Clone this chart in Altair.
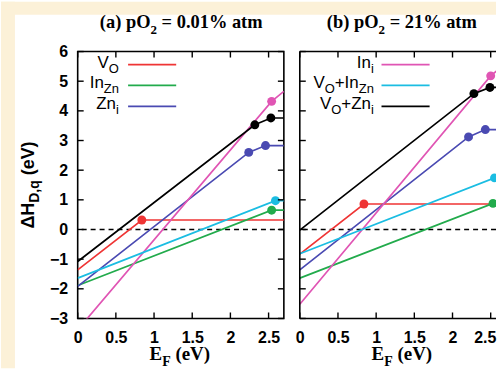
import altair as alt
import pandas as pd

# ---------------- data ----------------
SERIES = ["V_O", "In_Zn", "Zn_i", "In_i", "V_O+In_Zn", "V_O+Zn_i"]
COLORS = ["#ef3535", "#22ab4c", "#4a4ab2", "#e055b4", "#1bbde2", "#000000"]

X_MAX = 2.7
Y_MIN, Y_MAX = -3, 6
X_TICKS = [0, 0.5, 1, 1.5, 2, 2.5]
Y_TICKS = [-3, -2, -1, 0, 1, 2, 3, 4, 5, 6]

# Panel (a): pO2 = 0.01% atm  (breakpoints of each line)
A_VO_X = [0, 0.84, 2.7]
A_VO_Y = [-1.36, 0.32, 0.32]
A_INZN_X = [0, 2.54, 2.7]
A_INZN_Y = [-1.89, 0.65, 0.65]
A_ZNI_X = [0, 2.24, 2.46, 2.7]
A_ZNI_Y = [-1.92, 2.60, 2.83, 2.83]
A_INI_X = [0, 2.54, 2.7]
A_INI_Y = [-3.38, 4.32, 4.66]
A_VOINZN_X = [0, 2.59, 2.7]
A_VOINZN_Y = [-1.64, 0.97, 0.97]
A_VOZNI_X = [0, 2.32, 2.53, 2.7]
A_VOZNI_Y = [-1.08, 3.53, 3.76, 3.76]
A_DOT_S = ["V_O", "In_Zn", "Zn_i", "Zn_i", "In_i", "V_O+In_Zn", "V_O+Zn_i", "V_O+Zn_i"]
A_DOT_X = [0.84, 2.54, 2.24, 2.46, 2.54, 2.59, 2.32, 2.53]
A_DOT_Y = [0.32, 0.65, 2.60, 2.83, 4.32, 0.97, 3.53, 3.76]

# Panel (b): pO2 = 21% atm
B_VO_X = [0, 0.84, 2.7]
B_VO_Y = [-0.83, 0.86, 0.86]
B_INZN_X = [0, 2.53, 2.7]
B_INZN_Y = [-1.64, 0.88, 0.88]
B_ZNI_X = [0, 2.21, 2.43, 2.7]
B_ZNI_Y = [-1.36, 3.12, 3.37, 3.37]
B_INI_X = [0, 2.50, 2.7]
B_INI_Y = [-2.52, 5.18, 5.60]
B_VOINZN_X = [0, 2.55, 2.7]
B_VOINZN_Y = [-0.82, 1.74, 1.74]
B_VOZNI_X = [0, 2.28, 2.49, 2.7]
B_VOZNI_Y = [-0.02, 4.58, 4.79, 4.79]
B_DOT_S = ["V_O", "In_Zn", "Zn_i", "Zn_i", "In_i", "V_O+In_Zn", "V_O+Zn_i", "V_O+Zn_i"]
B_DOT_X = [0.84, 2.53, 2.21, 2.43, 2.50, 2.55, 2.28, 2.49]
B_DOT_Y = [0.86, 0.88, 3.12, 3.37, 5.18, 1.74, 4.58, 4.79]

# legends (series, label segments: (text, is_subscript))
A_LEG = ["V_O", "In_Zn", "Zn_i"]
B_LEG = ["In_i", "V_O+In_Zn", "V_O+Zn_i"]
LABEL_SEGS = {
    "V_O": [("V", 0), ("O", 1)],
    "In_Zn": [("In", 0), ("Zn", 1)],
    "Zn_i": [("Zn", 0), ("i", 1)],
    "In_i": [("In", 0), ("i", 1)],
    "V_O+In_Zn": [("V", 0), ("O", 1), ("+In", 0), ("Zn", 1)],
    "V_O+Zn_i": [("V", 0), ("O", 1), ("+Zn", 0), ("i", 1)],
}
LEG_ROWS_Y = [5.56, 4.86, 4.15]
A_LEG_END, A_LEG_X1, A_LEG_X2 = 0.54, 0.66, 1.29
B_LEG_END, B_LEG_X1, B_LEG_X2 = 0.97, 1.07, 1.70

A_TITLE = [("(a) pO", 0), ("2", 1), (" = 0.01% atm", 0)]
B_TITLE = [("(b) pO", 0), ("2", 1), (" = 21% atm", 0)]
X_TITLE = [("E", 0), ("F", 1), (" (eV)", 0)]
Y_TITLE = [("ΔH", 0), ("D,q", 1), (" (eV)", 0)]

# ---------------- styling helpers ----------------
W, H = 207, 268
PX_PER_EV = W / X_MAX
WB = 197                      # panel (b) is cut by the picture's right edge
CREAM = "#fcf1d8"
SANS = "Liberation Sans"
SERIF = "Liberation Serif"

W_SANS = {"V": 667, "O": 778, "I": 278, "n": 556, "Z": 611, "i": 222, "+": 584, " ": 278}
W_SANS_B = {"Δ": 722, "H": 722, "D": 722, ",": 278, "q": 611, " ": 278, "(": 333,
            "e": 556, "V": 667, ")": 333}
W_SERIF_B = {"(": 333, "a": 500, ")": 333, " ": 250, "p": 556, "O": 778, "2": 500,
             "=": 570, "0": 500, ".": 250, "1": 500, "%": 1000, "t": 333, "m": 833,
             "b": 556, "E": 667, "F": 611, "e": 444, "V": 722}


def tw(s, size, table):
    return sum(table.get(c, 556) for c in s) * size / 1000.0


DUMMY = pd.DataFrame({"k": [0]})


def make_xenc(xmax, last_shift):
    return alt.X("x:Q", scale=alt.Scale(domain=[0, xmax], nice=False, zero=False),
                 axis=alt.Axis(values=X_TICKS, format="~g", title=None, ticks=False,
                               domain=False, grid=False, labelFont=SANS, labelFontSize=16,
                               labelFontWeight="bold", labelColor="black", labelPadding=11,
                               labelFlush=False, labelOverlap=False,
                               labelOffset=alt.condition("datum.value > 2.4",
                                                         alt.value(last_shift),
                                                         alt.value(0))))


def make_yenc(show):
    ax = alt.Axis(values=Y_TICKS, format="d", title=None, ticks=False, domain=False,
                  grid=False, labelFont=SANS, labelFontSize=16, labelFontWeight="bold",
                  labelColor="black", labelPadding=10, labelOverlap=False) if show else None
    return alt.Y("y:Q", scale=alt.Scale(domain=[Y_MIN, Y_MAX], nice=False, zero=False),
                 axis=ax)


def seg_text_pixels(segs, start, base, *, font, size, sub_size, weight, table,
                    sub_shift, angle=0):
    """Layers of text placed at pixel positions (title-like text with subscripts)."""
    layers = []
    pos = start
    sign = 1 if angle == 0 else -1
    for text, sub in segs:
        fs = sub_size if sub else size
        # leading blanks are dropped by SVG: turn them into an advance instead
        stripped = text.lstrip(" ")
        pos += sign * tw(text[: len(text) - len(stripped)], fs, table)
        if angle == 0:
            x, y = pos, base + (sub_shift if sub else 0)
        else:  # rotated 270: text runs upward, subscript shifts to the right
            x, y = base + (sub_shift if sub else 0), pos
        layers.append(
            alt.Chart(DUMMY).mark_text(text=stripped, align="left", baseline="alphabetic",
                                       font=font, fontSize=fs, fontWeight=weight,
                                       angle=angle, color="black")
            .encode(x=alt.value(x), y=alt.value(y)))
        pos += sign * tw(stripped, fs, table)
    return layers


def seg_width(segs, size, sub_size, table):
    return sum(tw(t, sub_size if s else size, table) for t, s in segs)


def panel(lines, dots, leg_series, leg_end, leg_x1, leg_x2, title_segs, title_cx,
          first, pw):
    xmax = pw / PX_PER_EV
    xenc = make_xenc(xmax, 0 if first else -6)
    yenc = make_yenc(first)
    cenc = alt.Color("series:N", scale=alt.Scale(domain=SERIES, range=COLORS), legend=None)
    layers = []

    if first:
        layers.append(alt.Chart(DUMMY).mark_rect(color=CREAM).encode(
            x=alt.value(-77), x2=alt.value(420), y=alt.value(-50), y2=alt.value(-37)))
        layers.append(alt.Chart(DUMMY).mark_rect(color=CREAM).encode(
            x=alt.value(-77), x2=alt.value(-63), y=alt.value(-50), y2=alt.value(318)))

    # zero reference line
    layers.append(alt.Chart(pd.DataFrame({"y": [0]})).mark_rule(
        color="black", strokeDash=[5, 4], strokeWidth=1.3).encode(y=yenc))

    # formation energy lines
    layers.append(alt.Chart(lines).mark_line(strokeWidth=1.7, clip=True).encode(
        x=xenc, y=yenc, color=cenc, detail="series:N", order="o:Q"))
    # transition-level dots
    layers.append(alt.Chart(dots).mark_circle(size=80, opacity=1, clip=True).encode(
        x=xenc, y=yenc, color=cenc))

    # inward ticks
    xt = pd.DataFrame({"x": X_TICKS})
    yt = pd.DataFrame({"y": Y_TICKS})
    tick = dict(color="black", strokeWidth=1.4)
    layers.append(alt.Chart(xt).mark_rule(**tick).encode(
        x=xenc, y=alt.value(H), y2=alt.value(H - 6)))
    layers.append(alt.Chart(xt).mark_rule(**tick).encode(
        x=xenc, y=alt.value(0), y2=alt.value(6)))
    layers.append(alt.Chart(yt).mark_rule(**tick).encode(
        y=yenc, x=alt.value(0), x2=alt.value(6)))
    if first:
        layers.append(alt.Chart(yt).mark_rule(**tick).encode(
            y=yenc, x=alt.value(pw), x2=alt.value(pw - 6)))
    else:
        # frame: left, top, bottom (right side lies beyond the picture)
        fr = dict(color="black", strokeWidth=1.6)
        layers.append(alt.Chart(DUMMY).mark_rule(**fr).encode(
            x=alt.value(0), y=alt.value(0), y2=alt.value(H)))
        layers.append(alt.Chart(DUMMY).mark_rule(**fr).encode(
            x=alt.value(0), x2=alt.value(pw), y=alt.value(0)))
        layers.append(alt.Chart(DUMMY).mark_rule(**fr).encode(
            x=alt.value(0), x2=alt.value(pw), y=alt.value(H)))

    # legend samples
    leg_df = pd.DataFrame({"series": leg_series, "x": [leg_x1] * 3, "x2": [leg_x2] * 3,
                           "y": LEG_ROWS_Y})
    layers.append(alt.Chart(leg_df).mark_rule(strokeWidth=1.7).encode(
        x=xenc, x2="x2:Q", y=yenc, color=cenc))
    # legend labels (right aligned, with subscripts)
    LS, LSS = 17, 13
    for s, yrow in zip(leg_series, LEG_ROWS_Y):
        segs = LABEL_SEGS[s]
        total = seg_width(segs, LS, LSS, W_SANS)
        pos = -total
        for text, sub in segs:
            fs = LSS if sub else LS
            layers.append(
                alt.Chart(pd.DataFrame({"x": [leg_end], "y": [yrow]})).mark_text(
                    text=text, align="left", baseline="alphabetic", font=SANS,
                    fontSize=fs, dx=pos, dy=8 if sub else 3, color="black")
                .encode(x=xenc, y=yenc))
            pos += tw(text, fs, W_SANS)

    # panel title
    TS, TSS = 18.5, 13
    tw_total = seg_width(title_segs, TS, TSS, W_SERIF_B)
    layers += seg_text_pixels(title_segs, title_cx - tw_total / 2, -24, font=SERIF,
                              size=TS, sub_size=TSS, weight="bold", table=W_SERIF_B,
                              sub_shift=6)
    # x title
    XS, XSS = 19, 14
    xw = seg_width(X_TITLE, XS, XSS, W_SERIF_B)
    layers += seg_text_pixels(X_TITLE, W / 2 - 1 - xw / 2, H + 42, font=SERIF, size=XS,
                              sub_size=XSS, weight="bold", table=W_SERIF_B, sub_shift=6)
    # y title (rotated)
    if first:
        YS, YSS = 18, 14
        yw = seg_width(Y_TITLE, YS, YSS, W_SANS_B)
        layers += seg_text_pixels(Y_TITLE, 134 + yw / 2, -44, font=SANS, size=YS,
                                  sub_size=YSS, weight="bold", table=W_SANS_B,
                                  sub_shift=5, angle=270)

    ch = alt.layer(*layers).properties(width=pw, height=H)
    if not first:
        ch = ch.properties(view=alt.ViewBackground(stroke="transparent", strokeWidth=0))
    return ch


def lines_df(prefix):
    g = globals()
    names = ["VO", "INZN", "ZNI", "INI", "VOINZN", "VOZNI"]
    rows = []
    for s, n in zip(SERIES, names):
        xs, ys = g[f"{prefix}_{n}_X"], g[f"{prefix}_{n}_Y"]
        for i, (x, y) in enumerate(zip(xs, ys)):
            rows.append({"series": s, "o": i, "x": x, "y": y})
    return pd.DataFrame(rows)


a_lines = lines_df("A")
b_lines = lines_df("B")
a_dots = pd.DataFrame({"series": A_DOT_S, "x": A_DOT_X, "y": A_DOT_Y})
b_dots = pd.DataFrame({"series": B_DOT_S, "x": B_DOT_X, "y": B_DOT_Y})

pa = panel(a_lines, a_dots, A_LEG, A_LEG_END, A_LEG_X1, A_LEG_X2, A_TITLE, 104, True, W)
pb = panel(b_lines, b_dots, B_LEG, B_LEG_END, B_LEG_X1, B_LEG_X2, B_TITLE, 102.5, False, WB)

chart = alt.hconcat(pa, pb, spacing=16, bounds="flush").properties(
    padding=0, background="white"
).configure_view(stroke="black", strokeWidth=1.6)

chart.save("out.html", embed_options={"renderer": "svg", "actions": False})
